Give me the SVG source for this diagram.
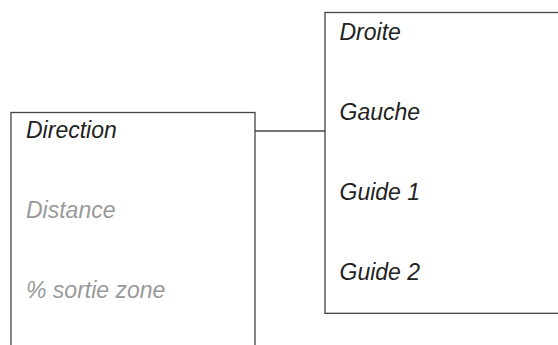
<svg xmlns="http://www.w3.org/2000/svg" width="558" height="345" viewBox="0 0 558 345">
<style>
.box{fill:#fff;stroke:#444;stroke-width:1.3}
.t{font-family:"Liberation Sans",Arial,sans-serif;font-style:italic;font-size:23px}
.k{fill:#222}
.g{fill:#999}
.c{stroke:#444;stroke-width:1.3;fill:none}
</style>
<rect width="558" height="345" fill="#fff"/>
<g id="connectors">
<line class="c" x1="255" y1="131" x2="325" y2="131"/>
</g>
<g id="node-left">
<rect class="box" x="11" y="112.5" width="244" height="250"/>
<text class="t k" x="26" y="138">Direction</text>
<text class="t g" x="26" y="218">Distance</text>
<text class="t g" x="26" y="298">% sortie zone</text>
</g>
<g id="node-right">
<rect class="box" x="325" y="12.5" width="250" height="300.8"/>
<text class="t k" x="339.5" y="39.5">Droite</text>
<text class="t k" x="339.5" y="119.5">Gauche</text>
<text class="t k" x="339.5" y="199.5">Guide 1</text>
<text class="t k" x="339.5" y="279.5">Guide 2</text>
</g>
</svg>
